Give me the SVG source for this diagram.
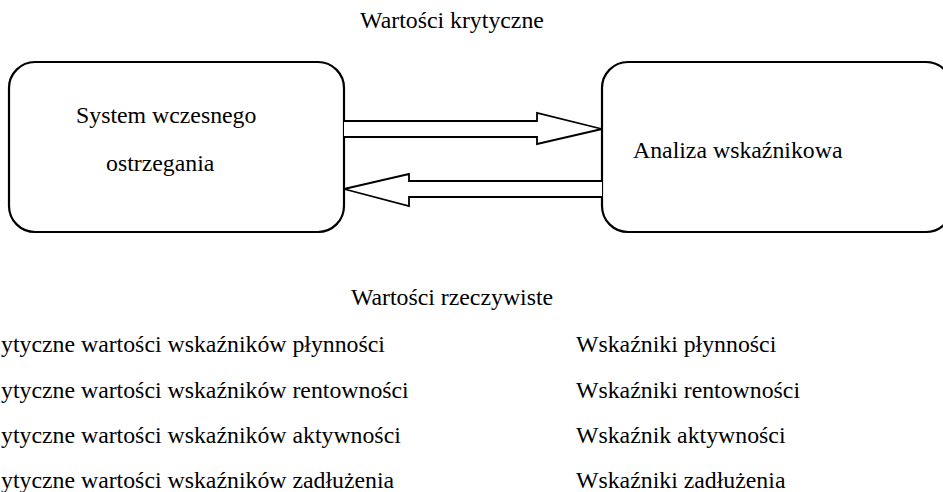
<svg xmlns="http://www.w3.org/2000/svg" width="943" height="492" viewBox="0 0 943 492">
<style>
text{font-family:"Liberation Serif","Times New Roman",serif;font-size:23.8px;fill:#000}
.box{fill:#fff;stroke:#000;stroke-width:2.2}
.arr{fill:#fff;stroke:#000;stroke-width:1.8;stroke-linejoin:miter}
</style>
<rect width="943" height="492" fill="#fff"/>
<text x="452" y="28" text-anchor="middle">Wartości krytyczne</text>
<g id="node-system">
<rect class="box" x="9" y="62" width="335" height="170" rx="26" ry="26"/>
<text x="76" y="123">System wczesnego</text>
<text x="106" y="171">ostrzegania</text>
</g>
<g id="node-analiza">
<rect class="box" x="602" y="62" width="350" height="170" rx="26" ry="26"/>
<text x="633" y="158">Analiza wskaźnikowa</text>
</g>
<g id="connectors">
<path class="arr" d="M344 121 H537 V113 L602 129 L537 144 V137 H344"/>
<path class="arr" d="M602 181 H409 V174 L344 189 L409 206 V197 H602"/>
</g>
<text x="452" y="305" text-anchor="middle">Wartości rzeczywiste</text>
<g id="list-left">
<text x="1" y="352">ytyczne wartości wskaźników płynności</text>
<text x="1" y="398">ytyczne wartości wskaźników rentowności</text>
<text x="1" y="443">ytyczne wartości wskaźników aktywności</text>
<text x="1" y="488">ytyczne wartości wskaźników zadłużenia</text>
</g>
<g id="list-right">
<text x="576" y="352">Wskaźniki płynności</text>
<text x="576" y="398">Wskaźniki rentowności</text>
<text x="576" y="443">Wskaźnik aktywności</text>
<text x="576" y="488">Wskaźniki zadłużenia</text>
</g>
</svg>
